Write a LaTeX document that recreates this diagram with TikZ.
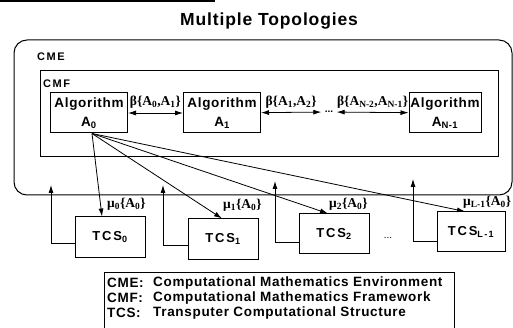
\documentclass[tikz,border=0pt]{standalone}
\usepackage{fontspec}
\setmainfont{Liberation Sans}
\newfontfamily\algfont{Liberation Sans}[LetterSpace=5]
\newfontfamily\widefont{Liberation Sans}[LetterSpace=14]
\newfontfamily\keyfont{Liberation Sans}[LetterSpace=5]
\newfontfamily\serfont{Liberation Serif}
\usetikzlibrary{arrows.meta}

\tikzset{
  algbox/.style={draw, line width=1pt, minimum width=77pt, minimum height=40pt,
    align=center, inner sep=0pt, font=\algfont\bfseries\fontsize{13.5}{19}\selectfont},
  tcsbox/.style={draw, line width=1pt, minimum width=70pt, minimum height=40pt,
    inner sep=0pt, font=\widefont\bfseries\fontsize{13}{15}\selectfont},
  frame/.style={font=\widefont\bfseries\fontsize{11}{13}\selectfont, anchor=west, inner sep=0pt},
  lab/.style={font=\serfont\bfseries\fontsize{13.5}{15}\selectfont, inner sep=0pt},
  key/.style={font=\keyfont\bfseries\fontsize{13.5}{15}\selectfont, anchor=west, inner sep=0pt},
  arr/.style={-{Latex[length=8pt,width=5pt]}, line width=0.8pt},
  darr/.style={{Latex[length=8pt,width=5pt]}-{Latex[length=8pt,width=5pt]}, line width=0.8pt},
}

\begin{document}
\begin{tikzpicture}[x=1pt, y=-1pt]
\useasboundingbox (0,0) rectangle (513,328);
%\draw[help lines] (0,0) grid[step=50] (513,328);

\draw[line width=2.5pt] (0,1) -- (215,1);
\node[font=\algfont\bfseries\fontsize{17.5}{20}\selectfont] (title) at (269,21) {Multiple Topologies};

% CME and CMF frames
\draw[line width=1pt, rounded corners=13pt] (14,40) rectangle (512,195);
\node[frame] (cme) at (37,57) {CME};
\draw[line width=1pt] (40,71) rectangle (498,157);
\node[frame] (cmf) at (43,84) {CMF};

\node[algbox] (A0) at (89,113) {Algorithm\\A\textsubscript{0}};
\node[algbox] (A1) at (222,113) {Algorithm\\A\textsubscript{1}};
\node[algbox, minimum width=72pt] (AN) at (445,113) {Algorithm\\A\textsubscript{N-1}};
\node[font=\bfseries] (dots) at (329,112) {...};

\path
    (A0) edge[darr] node[lab, midway, above=4pt] {β\{A\textsubscript{0},A\textsubscript{1}\}} (A1)
    (A1) edge[darr] node[lab, midway, above=4pt] {β\{A\textsubscript{1},A\textsubscript{2}\}} (dots)
    (dots) edge[darr] node[lab, midway, above=4pt] {β\{A\textsubscript{N-2},A\textsubscript{N-1}\}} (AN);

% TCS row
\node[tcsbox] (T0) at (110,237) {TCS\textsubscript{0}};
\node[tcsbox] (T1) at (223,239) {TCS\textsubscript{1}};
\node[tcsbox] (T2) at (334,234) {TCS\textsubscript{2}};
\node[tcsbox, minimum width=68pt] (TL) at (471,232) {TCS\textsubscript{L-1}};
\node (dots2) at (388,238) {...};

\draw[arr] ([xshift=3pt]A0.south) -- ([xshift=-8pt]T0.north);
\draw[arr] ([xshift=3pt]A0.south) -- ([xshift=-1pt]T1.north);
\draw[arr] ([xshift=3pt]A0.south) -- ([xshift=-6pt]T2.north);
\draw[arr] ([xshift=3pt]A0.south) -- ([xshift=-6pt]TL.north);

\node[lab, anchor=west] (m0) at (107,204) {μ\textsubscript{0}\{A\textsubscript{0}\}};
\node[lab, anchor=west] (m1) at (223,205) {μ\textsubscript{1}\{A\textsubscript{0}\}};
\node[lab, anchor=west] (m2) at (329,204) {μ\textsubscript{2}\{A\textsubscript{0}\}};
\node[lab, anchor=west] (mL) at (463,202) {μ\textsubscript{L-1}\{A\textsubscript{0}\}};

% results back into the CME
\coordinate (f0) at (51,185);
\coordinate (f1) at (163,185);
\coordinate (f2) at (275,181);
\coordinate (f3) at (413,179);
\draw[arr] ([yshift=-6pt]T0.west) -| (f0);
\draw[arr] ([yshift=-6pt]T1.west) -| (f1);
\draw[arr] ([yshift=-8pt]T2.west) -| (f2);
\draw[arr] ([yshift=-9pt]TL.west) -| (f3);

% legend
\draw[line width=1pt] (104,272) rectangle (454,335);
\node[key] (k1) at (107,283) {CME:};
\node[key] (k2) at (107,298) {CMF:};
\node[key] (k3) at (107,313) {TCS:};
\node[key] (d1) at (153,283) {Computational Mathematics Environment};
\node[key] (d2) at (153,298) {Computational Mathematics Framework};
\node[key] (d3) at (153,313) {Transputer Computational Structure};
\end{tikzpicture}
\end{document}
